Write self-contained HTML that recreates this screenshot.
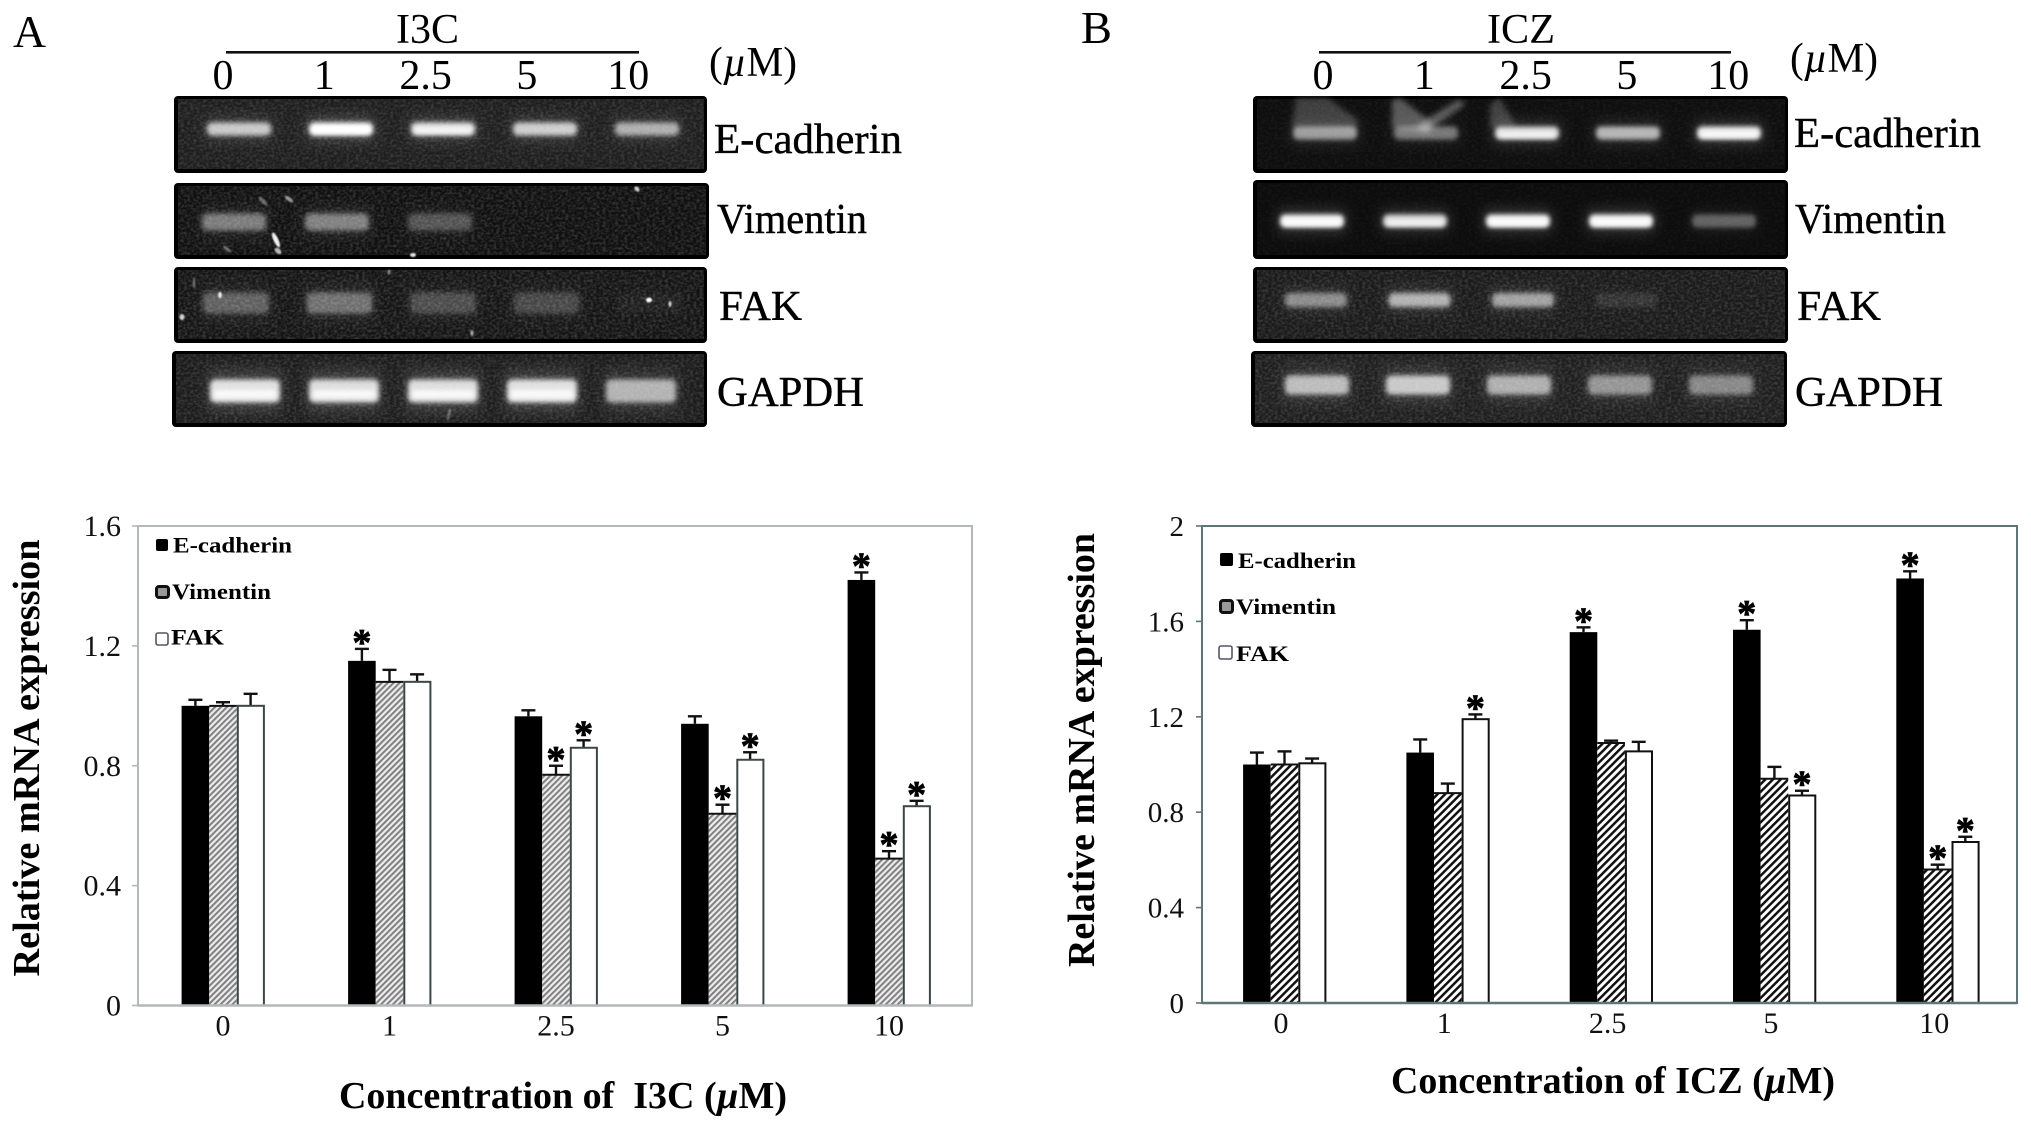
<!DOCTYPE html>
<html lang="en">
<head>
<meta charset="utf-8">
<title>I3C and ICZ mRNA expression</title>
<style>
html,body{margin:0;padding:0;background:#fff;}
svg{display:block;}
text{font-family:"Liberation Serif",serif;fill:#000;}
.gl{font-size:42px;stroke:#000;stroke-width:.4;}
.top{font-size:42px;}
.pn{font-size:46px;}
.ax{font-size:30px;fill:#111;}
.ttl{font-size:38px;font-weight:bold;}
.leg{font-size:22px;font-weight:bold;}
.st{font-size:38px;font-weight:bold;stroke:#000;stroke-width:.8;}
</style>
</head>
<body>
<svg id="fig" xmlns="http://www.w3.org/2000/svg" width="2031" height="1126" viewBox="0 0 2031 1126">
<defs>
<pattern id="hatchA" width="4.2" height="4.2" patternUnits="userSpaceOnUse" patternTransform="rotate(45)">
<rect width="4.2" height="4.2" fill="#ececec"/><rect width="2" height="4.2" fill="#808080"/>
</pattern>
<pattern id="hatchB" width="5.4" height="5.4" patternUnits="userSpaceOnUse" patternTransform="rotate(45)">
<rect width="5.4" height="5.4" fill="#fff"/><rect width="2.5" height="5.4" fill="#111"/>
</pattern>
<filter id="b2" x="-30%" y="-80%" width="160%" height="260%"><feGaussianBlur stdDeviation="2.4"/></filter>
<filter id="b6" x="-30%" y="-100%" width="160%" height="300%"><feGaussianBlur stdDeviation="7"/></filter>
<filter id="b1" x="-100%" y="-100%" width="300%" height="300%"><feGaussianBlur stdDeviation=".7"/></filter>
<filter id="b3" x="-30%" y="-30%" width="160%" height="160%"><feGaussianBlur stdDeviation="3"/></filter>
<filter id="noise" x="0" y="0" width="100%" height="100%">
<feTurbulence type="fractalNoise" baseFrequency=".32 .4" numOctaves="2" seed="4"/>
<feColorMatrix values="0 0 0 0 1  0 0 0 0 1  0 0 0 0 1  1.4 0 0 0 -.52"/>
</filter>
</defs>

<text class="pn" x="13" y="47" textLength="33" lengthAdjust="spacingAndGlyphs">A</text>
<text class="top" x="396" y="43" textLength="63" lengthAdjust="spacingAndGlyphs">I3C</text>
<rect x="226" y="51" width="413" height="2.6" fill="#111"/>
<text class="top" x="709" y="76" textLength="88" lengthAdjust="spacingAndGlyphs">(<tspan font-style="italic">µ</tspan>M)</text>

<text class="pn" x="1081" y="43" textLength="31" lengthAdjust="spacingAndGlyphs">B</text>
<text class="top" x="1487" y="43" textLength="68" lengthAdjust="spacingAndGlyphs">ICZ</text>
<rect x="1319" y="51" width="412" height="2.6" fill="#111"/>
<text class="top" x="1790" y="72" textLength="88" lengthAdjust="spacingAndGlyphs">(<tspan font-style="italic">µ</tspan>M)</text>

<g id="gels"></g>

<g id="gel-artifacts" fill="#fff">
<g filter="url(#b1)">
<ellipse cx="263" cy="201" rx="6" ry="2" transform="rotate(45 263 201)" opacity=".35"/>
<ellipse cx="289" cy="199" rx="5" ry="2" transform="rotate(35 289 199)" opacity=".55"/>
<ellipse cx="276" cy="240" rx="8" ry="2.4" transform="rotate(65 276 240)" opacity=".95"/>
<ellipse cx="278" cy="251" rx="4" ry="2.4" transform="rotate(40 278 251)" opacity=".7"/>
<ellipse cx="227" cy="249" rx="5" ry="1.6" transform="rotate(40 227 249)" opacity=".4"/>
<ellipse cx="413" cy="255" rx="3" ry="2" opacity=".9"/>
<ellipse cx="637" cy="189" rx="3" ry="2" transform="rotate(45 637 189)" opacity=".8"/>
<ellipse cx="220" cy="295" rx="1.8" ry="3.2" opacity=".9"/>
<ellipse cx="649" cy="300" rx="3" ry="2.4"/>
<ellipse cx="670" cy="304" rx="1.5" ry="3" opacity=".8"/>
<ellipse cx="182" cy="317" rx="2.5" ry="3" opacity=".8"/>
<ellipse cx="472" cy="333" rx="1.6" ry="3" opacity=".6"/>
<ellipse cx="389" cy="272" rx="1.4" ry="2.4" opacity=".5"/>
<ellipse cx="194" cy="283" rx="1.2" ry="5" opacity=".4"/>
<ellipse cx="449" cy="414" rx="1.6" ry="6" transform="rotate(15 449 414)" opacity=".3"/>
</g>
<g filter="url(#b3)">
<polygon points="1296,98 1328,98 1358,120 1356,130 1292,128" opacity=".2"/>
<polygon points="1392,100 1400,98 1434,124 1428,132 1392,128" opacity=".3"/>
<polygon points="1458,100 1466,104 1426,132 1416,126" opacity=".32"/>
<polygon points="1490,104 1500,98 1516,126 1490,128" opacity=".2"/>
</g>
</g>

<text class="gl" x="714" y="153" textLength="188" lengthAdjust="spacingAndGlyphs">E-cadherin</text>
<text class="gl" x="717" y="233" textLength="150" lengthAdjust="spacingAndGlyphs">Vimentin</text>
<text class="gl" x="719" y="320" textLength="83" lengthAdjust="spacingAndGlyphs">FAK</text>
<text class="gl" x="717" y="406" textLength="147" lengthAdjust="spacingAndGlyphs">GAPDH</text>

<text class="gl" x="1794" y="147" textLength="187" lengthAdjust="spacingAndGlyphs">E-cadherin</text>
<text class="gl" x="1795" y="233" textLength="151" lengthAdjust="spacingAndGlyphs">Vimentin</text>
<text class="gl" x="1797" y="320" textLength="84" lengthAdjust="spacingAndGlyphs">FAK</text>
<text class="gl" x="1795" y="406" textLength="148" lengthAdjust="spacingAndGlyphs">GAPDH</text>

<g id="chartA"></g>
<g id="chartB"></g>

<text class="ttl" transform="translate(39,758) rotate(-90)" text-anchor="middle" textLength="437" lengthAdjust="spacingAndGlyphs">Relative mRNA expression</text>
<text class="ttl" transform="translate(1094,750) rotate(-90)" text-anchor="middle" textLength="434" lengthAdjust="spacingAndGlyphs">Relative mRNA expression</text>
<text class="ttl" x="339" y="1108" textLength="448" lengthAdjust="spacingAndGlyphs">Concentration of&#160; I3C (<tspan font-style="italic">µ</tspan>M)</text>
<text class="ttl" x="1391" y="1093" textLength="444" lengthAdjust="spacingAndGlyphs">Concentration of ICZ (<tspan font-style="italic">µ</tspan>M)</text>

<text class="leg" x="173" y="552.5" textLength="119" lengthAdjust="spacingAndGlyphs">E-cadherin</text>
<rect x="156" y="539" width="12" height="12" rx="2" fill="#000"/>
<text class="leg" x="172" y="599" textLength="99" lengthAdjust="spacingAndGlyphs">Vimentin</text>
<rect x="156.5" y="586.5" width="12" height="11" rx="2.5" fill="#999" stroke="#111" stroke-width="3"/>
<text class="leg" x="171" y="644.5" textLength="53" lengthAdjust="spacingAndGlyphs">FAK</text>
<rect x="156" y="633" width="12" height="12" rx="2" fill="#fff" stroke="#556" stroke-width="1.6"/>

<text class="leg" x="1238" y="568" textLength="118" lengthAdjust="spacingAndGlyphs">E-cadherin</text>
<rect x="1220" y="553" width="13" height="13" rx="2" fill="#000"/>
<text class="leg" x="1236" y="614" textLength="100" lengthAdjust="spacingAndGlyphs">Vimentin</text>
<rect x="1220.5" y="600.5" width="12" height="12" rx="2.5" fill="#999" stroke="#111" stroke-width="3"/>
<text class="leg" x="1236" y="661" textLength="53" lengthAdjust="spacingAndGlyphs">FAK</text>
<rect x="1219" y="646" width="13" height="13" rx="2" fill="#fff" stroke="#556" stroke-width="1.6"/>
</svg>

<script>
// ---- shared categories ----
const categories = ['0', '1', '2.5', '5', '10'];
const seriesNames = ['E-cadherin', 'Vimentin', 'FAK'];

// ---- I3C chart data (panel A) ----
const i3cTicks = ['0', '0.4', '0.8', '1.2', '1.6'];
const i3cEcadherin = [1.00, 1.15, 0.965, 0.94, 1.42];
const i3cVimentin = [1.00, 1.08, 0.77, 0.64, 0.49];
const i3cFak = [1.00, 1.08, 0.86, 0.82, 0.665];
const i3cEcadherinErr = [0.02, 0.04, 0.02, 0.025, 0.025];
const i3cVimentinErr = [0.012, 0.04, 0.03, 0.03, 0.025];
const i3cFakErr = [0.04, 0.025, 0.025, 0.025, 0.018];
const i3cEcadherinSig = [0, 1, 0, 0, 1];
const i3cVimentinSig = [0, 0, 1, 1, 1];
const i3cFakSig = [0, 0, 1, 1, 1];

// ---- ICZ chart data (panel B) ----
const iczTicks = ['0', '0.4', '0.8', '1.2', '1.6', '2'];
const iczEcadherin = [1.00, 1.05, 1.555, 1.565, 1.78];
const iczVimentin = [1.00, 0.88, 1.09, 0.94, 0.56];
const iczFak = [1.005, 1.19, 1.055, 0.87, 0.675];
const iczEcadherinErr = [0.05, 0.055, 0.02, 0.04, 0.03];
const iczVimentinErr = [0.055, 0.04, 0.01, 0.05, 0.02];
const iczFakErr = [0.02, 0.02, 0.04, 0.02, 0.022];
const iczEcadherinSig = [0, 0, 1, 1, 1];
const iczVimentinSig = [0, 0, 0, 0, 1];
const iczFakSig = [0, 1, 0, 1, 1];

// ---- gel band intensities (0-1), one value per lane ----
const i3cGelEcadherin = [0.72, 1, 0.85, 0.75, 0.6];
const i3cGelVimentin = [0.40, 0.42, 0.24, 0, 0];
const i3cGelFak = [0.28, 0.34, 0.20, 0.18, 0.03];
const i3cGelGapdh = [0.84, 0.82, 0.82, 0.84, 0.62];
const iczGelEcadherin = [0.55, 0.4, 0.82, 0.66, 0.9];
const iczGelVimentin = [0.95, 0.82, 0.95, 0.95, 0.32];
const iczGelFak = [0.45, 0.62, 0.55, 0.09, 0];
const iczGelGapdh = [0.66, 0.72, 0.6, 0.48, 0.42];

const NS = 'http://www.w3.org/2000/svg';
function el(tag, parent) {
  const n = document.createElementNS(NS, tag);
  parent.appendChild(n);
  return n;
}
function set(n, attrs) {
  for (const k in attrs) n.setAttribute(k, attrs[k]);
  return n;
}

// lane labels above gels
function drawLaneLabels(prefix, x0, step) {
  const g = document.getElementById('gels');
  categories.forEach((c, i) => {
    const t = set(el('text', g), {x: x0 + step * i, y: 89, 'text-anchor': 'middle', class: 'top'});
    t.textContent = c;
    
    
  });
}

function drawGel(name, gx, gy, gw, gh, bg, noise, first, step, bandY, bandW, bandH, values) {
  const root = document.getElementById('gels');
  const g = el('g', root);
  
  
  set(el('rect', g), {x: gx, y: gy, width: gw, height: gh, rx: 4, fill: '#000'});
  set(el('rect', g), {x: gx + 4, y: gy + 3, width: gw - 7, height: gh - 7, fill: bg});
  set(el('rect', g), {x: gx + 4, y: gy + 3, width: gw - 7, height: gh - 7, filter: 'url(#noise)', opacity: noise});
  values.forEach((v, i) => {
    if (v <= 0) return;
    const cx = first + step * i;
    const b = el('g', g);
    
    
    set(el('rect', b), {x: cx - bandW / 2, y: bandY - bandH * .9, width: bandW, height: bandH * 1.8,
      fill: '#fff', opacity: v * .18, filter: 'url(#b6)'});
    set(el('rect', b), {x: cx - bandW / 2 + 2, y: bandY - bandH / 2, width: bandW - 4, height: bandH, rx: 5,
      fill: '#fff', opacity: Math.min(1, v), filter: 'url(#b2)'});
    if (v > 0.78) {
      set(el('rect', b), {x: cx - bandW / 2 + 6, y: bandY - bandH * .05, width: bandW - 12, height: bandH * .36, rx: 2,
        fill: '#fff', opacity: .85, filter: 'url(#b2)'});
    }
  });
}

// Gel panel A
drawLaneLabels('i3c', 223, 101.3);
drawGel('i3c-gel-e-cadherin', 174, 96, 533, 77, '#1e1e1e', .22, 239, 102, 129, 68, 13, i3cGelEcadherin);
drawGel('i3c-gel-vimentin', 174, 183, 535, 76, '#101010', .26, 234, 103, 222, 68, 17, i3cGelVimentin);
drawGel('i3c-gel-fak', 174, 267, 533, 76, '#141414', .28, 236, 103.5, 303, 70, 21, i3cGelFak);
drawGel('i3c-gel-gapdh', 172, 351, 535, 76, '#1c1c1c', .24, 245, 99, 391, 74, 23, i3cGelGapdh);
// Gel panel B
drawLaneLabels('icz', 1323, 101.3);
drawGel('icz-gel-e-cadherin', 1253, 96, 535, 77, '#0e0e0e', .08, 1325, 101, 133, 68, 13, iczGelEcadherin);
drawGel('icz-gel-vimentin', 1253, 180, 535, 79, '#0c0c0c', .06, 1312, 103, 221, 68, 13, iczGelVimentin);
drawGel('icz-gel-fak', 1253, 267, 535, 76, '#1a1a1a', .24, 1316, 103.5, 300, 66, 14, iczGelFak);
drawGel('icz-gel-gapdh', 1251, 351, 536, 76, '#1e1e1e', .24, 1317, 101, 385, 68, 19, iczGelGapdh);

// Bar chart
function drawChart(rootId, prefix, opt, ticks, series, errs, sigs) {
  const root = document.getElementById(rootId);
  const yScale = v => opt.y0 - (v / opt.max) * (opt.y0 - opt.y1);
  const center = i => opt.c0 + opt.step * i;

  const frame = set(el('rect', root), {x: opt.left, y: opt.y1, width: opt.right - opt.left, height: opt.y0 - opt.y1,
    fill: '#fff', stroke: opt.frame, 'stroke-width': 2});
  
  

  ticks.forEach(t => {
    const y = yScale(parseFloat(t));
    const tick = set(el('line', root), {x1: opt.left - 6, x2: opt.left, y1: y, y2: y, stroke: opt.frame, 'stroke-width': 1.6});
    
    
    const lab = set(el('text', root), {x: opt.tickX, y: y + 10, 'text-anchor': 'end', class: 'ax'});
    lab.style.fontSize = opt.fs + 'px';
    lab.textContent = t;
    
    
  });

  categories.forEach((c, i) => {
    const lab = set(el('text', root), {x: center(i) + opt.xLabDx, y: opt.y0 + 30, 'text-anchor': 'middle', class: 'ax'});
    lab.textContent = c;
    
    
  });

  series.forEach((vals, s) => {
    vals.forEach((v, i) => {
      const x = center(i) + (s - 1.5) * opt.bw;
      const mid = x + opt.bw / 2;
      const top = yScale(v);
      const capY = yScale(v + errs[s][i]);

      const stem = set(el('line', root), {x1: mid, x2: mid, y1: capY, y2: top, stroke: '#111', 'stroke-width': 2.4});
      
      
      const cap = set(el('line', root), {x1: mid - 7, x2: mid + 7, y1: capY, y2: capY, stroke: '#111', 'stroke-width': 2.4});
      
      

      const attrs = {x: x, y: top, width: opt.bw, height: opt.y0 - top};
      if (s === 0) { attrs.fill = '#000'; }
      if (s === 1) { attrs.fill = 'url(#' + opt.hatch + ')'; }
      if (s === 2) { attrs.fill = '#fff'; attrs.stroke = opt.outline; attrs['stroke-width'] = 2; attrs.x = x + 1; attrs.width = opt.bw - 1.5; }
      const bar = set(el('rect', root), attrs);
      
      
      if (s === 1) {
        const edge = set(el('line', root), {x1: x, x2: x + opt.bw, y1: top, y2: top, stroke: '#111', 'stroke-width': 2});
        
        
      }

      if (sigs[s][i]) {
        const star = set(el('text', root), {x: mid, y: capY + 6, 'text-anchor': 'middle', class: 'st'});
        star.textContent = '*';
        
        
      }
    });
  });

  const axis = set(el('line', root), {x1: opt.left, x2: opt.right, y1: opt.y0, y2: opt.y0, stroke: opt.frame, 'stroke-width': 2.4});
  
  
}

drawChart('chartA', 'i3c',
  {left: 138, right: 972, y0: 1005.5, y1: 526, max: 1.6, c0: 223, step: 166.5, bw: 27.6,
   frame: '#b4b8b8', hatch: 'hatchA', outline: '#3c4646', tickX: 121, fs: 30, xLabDx: 0},
  i3cTicks,
  [i3cEcadherin, i3cVimentin, i3cFak],
  [i3cEcadherinErr, i3cVimentinErr, i3cFakErr],
  [i3cEcadherinSig, i3cVimentinSig, i3cFakSig]);

drawChart('chartB', 'icz',
  {left: 1202, right: 2017, y0: 1003, y1: 526, max: 2, c0: 1284.5, step: 163.3, bw: 27.6,
   frame: '#5f7678', hatch: 'hatchB', outline: '#111', tickX: 1184, fs: 29, xLabDx: -3.5},
  iczTicks,
  [iczEcadherin, iczVimentin, iczFak],
  [iczEcadherinErr, iczVimentinErr, iczFakErr],
  [iczEcadherinSig, iczVimentinSig, iczFakSig]);
</script>
</body>
</html>
